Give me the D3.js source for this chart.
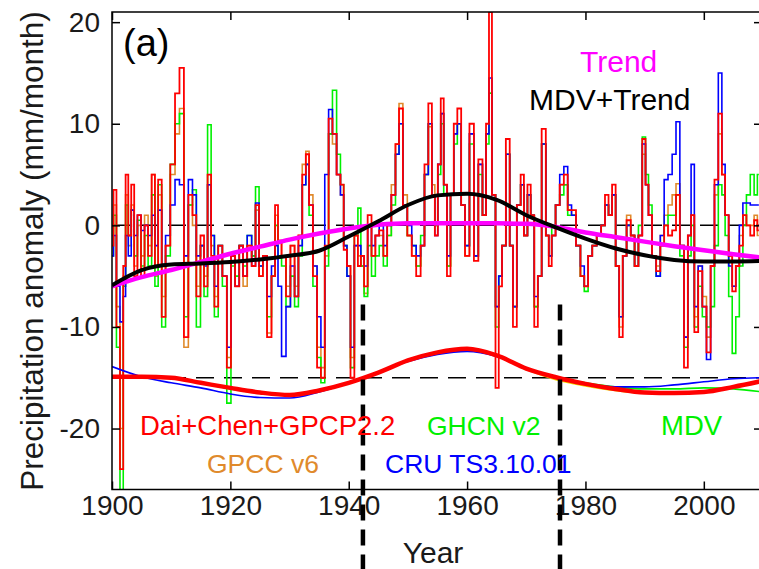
<!DOCTYPE html>
<html><head><meta charset="utf-8">
<script src="https://cdn.jsdelivr.net/npm/d3@7"></script>
<style>
body{margin:0;background:#fff}
svg{display:block}
text{font-family:"Liberation Sans",Arial,Helvetica,sans-serif}
</style>
</head><body>
<svg id="chart" width="759" height="569"></svg>
<script>
// ---------- data ----------
const tYears = [
1900.0,1900.5,1901.0,1901.7,1902.1,1902.5,1903.0,1903.5,1904.0,1904.6,
1905.2,1905.8,1906.4,1907.0,1907.5,1908.1,1908.7,1909.4,1910.3,1911.0,
1911.8,1912.5,1913.3,1913.9,1914.6,1915.3,1915.8,1916.5,1917.0,1917.6,
1918.3,1919.0,1919.8,1920.4,1921.2,1921.8,1922.5,1923.2,1924.0,1924.5,
1925.2,1925.8,1926.6,1927.3,1927.8,1928.3,1929.0,1929.8,1930.5,1931.2,
1931.8,1932.5,1933.0,1933.6,1934.3,1935.0,1935.6,1936.3,1936.9,1937.6,
1938.3,1938.9,1939.4,1940.0,1940.6,1941.3,1941.8,1942.3,1942.9,1943.5,
1944.2,1944.8,1945.5,1946.2,1946.8,1947.6,1948.2,1948.8,1949.5,1950.3,
1951.0,1951.8,1952.5,1953.1,1953.8,1954.3,1954.8,1955.3,1955.8,1956.3,
1956.9,1957.5,1958.0,1958.7,1959.3,1960.0,1960.8,1961.5,1962.3,1962.9,
1963.5,1963.9,1964.5,1965.1,1965.6,1966.2,1966.9,1967.5,1968.0,1968.8,
1969.3,1969.9,1970.5,1971.0,1971.7,1972.2,1973.0,1973.6,1974.0,1974.6,
1975.3,1976.0,1976.7,1977.3,1978.0,1978.8,1979.5,1980.1,1980.8,1981.5,
1982.3,1983.0,1983.6,1984.2,1984.8,1985.4,1986.0,1986.6,1987.3,1988.0,
1988.6,1989.3,1989.9,1990.4,1990.9,1991.6,1992.3,1993.0,1993.6,1994.3,
1995.0,1995.6,1996.3,1997.0,1997.6,1998.1,1998.7,1999.4,2000.1,2000.8,
2001.5,2002.1,2002.8,2003.3,2003.9,2004.5,2005.1,2005.7,2006.3,2006.9,
2007.5,2008.2,2008.8,2009.3
];
// Dai+Chen+GPCP2.2 (red)
const daiVals = [
-2,3.5,-10,-24,-4,5,-1,4,-5,1,
-5,0,-3,5,-4,4.5,-9,-2,6,13,
15.5,-11,3,1,-7,-1,-6,5,-3,-8,
-2,-5,-14,-3,-6,-2,-5,-2,-4,2,
-5,-3,-11,-5,2,-1.5,-3,-7,-2,-7,
-1,5,7,2,-5,-14,-15,-2,10.5,9,
5,4,-2.4,-4,-15,-1,-4,-3,-6,1,
-3,-1,-0.5,-3,0,3,8,11.5,2,-1,
-3,-5,-2,6,12,3,-1,6,12.5,4,
-5,3,10,11.5,2,-3,10,-3.5,6.5,1,
10,21,3,-16,-6,-2,8.5,-2,-10,2,
5,-1,4,1,-10,-5,9.5,-1,-4,-1,
2,4,5,1.5,1.5,-2,-5,-6,-3,-2,
-1,0,3,1,4,-4,-11,-3,0.5,-1,
-4,-1,8.5,4,1,-3,-4.5,-2,0,-1,
-0.5,3,-2,-14,-1,1,-10.5,-4.5,-8,-12.5,
-4,4.5,11,5,1,-3,-6.5,-4,-2,1,
0,-1,0.5,-0.5
];
// GPCC v6 (orange)
const gpccVals = [
-1,2,-8,-20,-5,3,-2,2,-4,0,
-3,1,-2,5,-5,3,-7,-2,5,9,
11.5,-12,2,0,-6,-2,-5,4,-2,-7,
-3,-5,-13,-3,-6,-2,-6,-2,-3,1.5,
-5,-3,-10.6,-5,1,-1.5,-3,-6,-2,-6,
-1,6,7.3,3,-4,-12,-14,-3,9,8,
5,3,-2,-4,-13,-2,-3,-4,-6.7,0,
-3,-1,-1,-3,-1,4,8,12,3,-1,
-3,-4,-2,5,9.7,4,0,6,11,4,
-4,3,9,10,2,-3,9,-3,6,1,
9,13,3,-8,-5,-2,7,-2,-8,2,
4,-1,3,1,-8,-5,8,-1,-3,-1,
2,4,4,1.5,1,-2,-5,-6,-3,-2,
-1,0,2,1,3,-4,-10,-3,1,-1,
-4,-1,7,4,1,-3,-4,-1,1,2,
3,4.1,-2,-11,-1,1,-9,-4,-7,-11,
-4,3,9,5,1,-3,-6,-4,-1,1,
0,0,1,-1
];
// GHCN v2 (green)
const ghcnVals = [
-3,1,-12,-27,-6,2,-1,1.5,-3,0.5,
-4,-1,-4,3,-6,4,-10,-3,6,10,
11,-9,2,3.5,-10,-2,-7,9.9,-1,-9,
-2,-6,-17.5,-4,-5,-2,-4,-1,-3,3.8,
-4,-3,-9,-5,0,-3,-4,-8,-5,-8,
-3,4,6,1,-6,-13,-15.5,-4,9,13.3,
7,4,-2,-5,-14,-1,1.7,-4,-7,-2,
-5,-3,-2,-4,-1,2,7,10,2,-1,
-2,-4,-1,5,10,3,0,5,10,3,
-4,3,8,10,2,-2,8,-3,5,1,
8,13,3,-10,-5,-2,7,-2,-8,2,
4,-1,3,1,-8,-5,8,-1,-3,0,
2,3,4,1,1,-2,-5,-6.5,-3,-2,
-1,0,2,1,3,-4,-9,-3,0,-1,
-4,0,8.7,5,2,-3,-5,-2,0,1,
1,3,-3,-12,-3,0,-10,-6,-9,-10,
-8,-2,4,3,-1,-7,-12.6,-9,-4,0,
3,5,3,5
];
// CRU TS3.10.01 (blue)
const cruVals = [
-3,-1,-6,-9.5,-7,-1,-3,1.5,-1,1,
-0.5,0,-1,1,-2,1.5,-4,-1,2,4.5,
4,-3,4.5,3,-3,-2,-4,4,-1,-6,
-2,-5,-12,-3,-6,-2,-5,-1,-4,2.2,
-4,-3,-7,-4,-2,-6,-12.9,-8,-4,-7,
-2,4,6,2,-4,-9,-12,5,11.4,9,
5,3,-2,-5,-12,-2,-2,-3,-4,0,
-2,-1,0,-2,0,3,7,10,2,0,
-2,-3,-2,5,10,3,-1,6,11,4,
-3,3,9,10,2,-2,9,-3,6,1,
9,14.5,3,-8,-5,-2,7,-2,-8,2,
4,-1,3,1,-7,-5,8,-1,-3,-1,
2,5,5.8,2,1,-2,-4,-6,-3,-2,
-1,0,2,1,3,-4,-9,-3,0,-1,
-4,-1,8,4,1,-3,-5,-1,4.5,5,
7,10.2,-2,-11,-1,6,-8,-4,-8,-13.2,
-4,4,15,6,1,-4,-6,-4,0,2.2,
2.2,2,2,2
];

// smooth components, every 5 years
const smoothYears = [1900,1905,1910,1915,1920,1925,1930,1935,1940,1945,1950,1955,1960,1965,1970,1975,1980,1985,1990,1995,2000,2005,2010];
const trendVals   = [-6.0,-5.1,-4.4,-3.6,-2.8,-2.1,-1.4,-0.8,-0.3,0.05,0.2,0.2,0.2,0.2,0.15,-0.15,-0.7,-1.15,-1.6,-2.05,-2.45,-2.85,-3.2];
const mdvTrendVals= [-5.9,-4.4,-3.85,-3.75,-3.6,-3.35,-3.0,-2.5,-1.1,0.4,2.0,2.95,3.1,2.5,1.0,-0.2,-1.3,-2.25,-2.95,-3.4,-3.55,-3.55,-3.5];
// MDV of each dataset (drawn offset by mdvOffset)
const mdvOffset = -15;
const mdvDai  = [0.1,0.1,0.0,-0.5,-1.0,-1.45,-1.7,-1.25,-0.5,0.5,1.7,2.5,2.85,2.2,0.9,0.05,-0.6,-1.1,-1.45,-1.5,-1.4,-0.9,-0.3];
const mdvGpcc = [-0.05,0.0,-0.05,-0.55,-1.05,-1.5,-1.7,-1.3,-0.55,0.45,1.65,2.45,2.8,2.15,0.8,-0.2,-0.8,-1.25,-1.5,-1.5,-1.4,-0.95,-0.35];
const mdvGhcn = [0.0,0.1,0.0,-0.5,-1.1,-1.5,-1.7,-1.3,-0.5,0.5,1.7,2.5,2.8,2.2,0.9,0.0,-0.5,-0.9,-1.1,-1.1,-1.0,-1.1,-1.4];
const mdvCru  = [1.1,0.1,-0.5,-1.0,-1.6,-1.95,-2.0,-1.4,-0.5,0.5,1.6,2.3,2.6,2.1,0.9,0.0,-0.6,-0.9,-0.9,-0.7,-0.4,-0.1,0.0];

const xTicks = [1900,1920,1940,1960,1980,2000];
const yTicks = [-20,-10,0,10,20];
const xDomain = [1900, 2010];
const yDomain = [-26, 21];
const refLines = [0, -15];
const breakYears = [1942.4, 1975.7];
const breakTop = -7.8;

// ---------- drawing ----------
const svg = d3.select("#chart");
const W = 759, H = 569;
const pL = 112, pR = 763, pT = 12, pB = 489.5;
const x = d3.scaleLinear().domain(xDomain).range([pL, pR]);
const y = d3.scaleLinear().domain(yDomain).range([pB, pT]);

svg.append("defs").append("clipPath").attr("id","plotclip")
  .append("rect").attr("x",pL).attr("y",pT).attr("width",pR-pL).attr("height",pB-pT);

const plot = svg.append("g").attr("clip-path","url(#plotclip)");

plot.selectAll("line.ref").data(refLines).join("line")
  .attr("x1",x(xDomain[0])).attr("x2",x(xDomain[1]))
  .attr("y1",d=>y(d)).attr("y2",d=>y(d))
  .attr("stroke","#000").attr("stroke-width",1.5).attr("stroke-dasharray","18,10");

const noisy = [
  {vals:gpccVals, color:"#e08a2c", w:1.6},
  {vals:ghcnVals, color:"#00f000", w:1.6},
  {vals:cruVals,  color:"#0000ff", w:1.6},
  {vals:daiVals,  color:"#ff0000", w:1.8}
];
const stepLine = d3.line().curve(d3.curveStep).x(d=>x(d[0])).y(d=>y(d[1]));
noisy.forEach(s=>{
  const pts = tYears.map((t,i)=>[t, s.vals[i]]).filter(p=>p[1]!==undefined);
  plot.append("path").datum(pts).attr("d",stepLine)
    .attr("fill","none").attr("stroke",s.color).attr("stroke-width",s.w);
});

const smoothLine = d3.line().curve(d3.curveMonotoneX).x(d=>x(d[0])).y(d=>y(d[1]));
const mdvSets = [
  {vals:mdvGpcc, color:"#f0e000", w:1.6},
  {vals:mdvGhcn, color:"#00f000", w:1.6},
  {vals:mdvCru,  color:"#0000ff", w:1.6},
  {vals:mdvDai,  color:"#ff0000", w:4.5}
];
mdvSets.forEach(s=>{
  const pts = smoothYears.map((t,i)=>[t, s.vals[i] + mdvOffset]);
  plot.append("path").datum(pts).attr("d",smoothLine)
    .attr("fill","none").attr("stroke",s.color).attr("stroke-width",s.w);
});

plot.append("path").datum(smoothYears.map((t,i)=>[t,trendVals[i]])).attr("d",smoothLine)
  .attr("fill","none").attr("stroke","#ff00ff").attr("stroke-width",4.5);
plot.append("path").datum(smoothYears.map((t,i)=>[t,mdvTrendVals[i]])).attr("d",smoothLine)
  .attr("fill","none").attr("stroke","#000").attr("stroke-width",4);

svg.append("rect").attr("x",pL).attr("y",pT).attr("width",pR-pL).attr("height",pB-pT)
  .attr("fill","none").attr("stroke","#000").attr("stroke-width",1.5);

const fs = "28px";
const fmt = d=>String(d);
const gx = svg.append("g").attr("transform",`translate(0,${pB})`)
  .call(d3.axisBottom(x).tickValues(xTicks).tickFormat(fmt).tickSizeInner(-8).tickSizeOuter(0).tickPadding(6));
const gy = svg.append("g").attr("transform",`translate(${pL},0)`)
  .call(d3.axisLeft(y).tickValues(yTicks).tickFormat(fmt).tickSizeInner(-8).tickSizeOuter(0).tickPadding(12));
const gxt = svg.append("g").attr("transform",`translate(0,${pT})`)
  .call(d3.axisTop(x).tickValues(xTicks).tickFormat("").tickSizeInner(-8).tickSizeOuter(0));
const gyr = svg.append("g").attr("transform",`translate(${pR},0)`)
  .call(d3.axisRight(y).tickValues(yTicks).tickFormat("").tickSizeInner(-9).tickSizeOuter(0));
[gx,gy,gxt,gyr].forEach(g=>{
  g.select(".domain").remove();
  g.selectAll("line").attr("stroke-width",1.5);
  g.attr("font-size",fs).attr("font-family",'"Liberation Sans",Arial,sans-serif');
  g.selectAll("text").attr("fill","#1a1a1a");
});

svg.selectAll("line.brk").data(breakYears).join("line")
  .attr("x1",d=>x(d)).attr("x2",d=>x(d))
  .attr("y1",y(breakTop)).attr("y2",H)
  .attr("stroke","#000").attr("stroke-width",4.5).attr("stroke-dasharray","16,9");

svg.append("text").attr("x",433).attr("y",563).attr("text-anchor","middle")
  .attr("font-size","30px").attr("fill","#1a1a1a").text("Year");
svg.append("text").attr("transform","translate(43,251) rotate(-90)").attr("text-anchor","middle")
  .attr("font-size","31.5px").attr("fill","#1a1a1a").text("Precipitation anomaly (mm/month)");
svg.append("text").attr("x",123).attr("y",56).attr("font-size","38px").attr("fill","#000").text("(a)");

const labels = [
  {t:"Trend", x:580, y:72, c:"#ff00ff", s:"30px"},
  {t:"MDV+Trend", x:529, y:110, c:"#000000", s:"30px"},
  {t:"Dai+Chen+GPCP2.2", x:140, y:435, c:"#ff0000", s:"27.5px"},
  {t:"GHCN v2", x:427, y:435, c:"#00f000", s:"26.5px"},
  {t:"MDV", x:661, y:435, c:"#00f000", s:"27.5px"},
  {t:"GPCC v6", x:207, y:473, c:"#e08a2c", s:"26.5px"},
  {t:"CRU TS3.10.01", x:385, y:473, c:"#0000ff", s:"26.5px"}
];
svg.selectAll("text.lab").data(labels).join("text").attr("class","lab")
  .attr("x",d=>d.x).attr("y",d=>d.y).attr("fill",d=>d.c).attr("font-size",d=>d.s).text(d=>d.t);
</script>
</body></html>
